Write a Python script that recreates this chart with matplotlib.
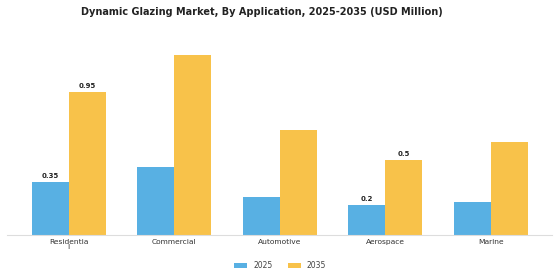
import matplotlib.pyplot as plt
import numpy as np

categories = ["Residentia\nl", "Commercial", "Automotive", "Aerospace", "Marine"]
values_2025 = [0.35, 0.45, 0.25, 0.20, 0.22]
values_2035 = [0.95, 1.20, 0.70, 0.50, 0.62]
# only these groups carry value labels in the original
labelled = [0, 3]

blue = "#58b0e3"
yellow = "#f8c24a"

fig = plt.figure(figsize=(5.6, 2.8), dpi=100)
ax = fig.add_axes([0.0125, 0.162, 0.973, 0.707])

x = np.arange(len(categories))
w = 0.35
ax.bar(x - w / 2, values_2025, w, color=blue, label="2025")
ax.bar(x + w / 2, values_2035, w, color=yellow, label="2035")

for i in labelled:
    ax.text(x[i] - w / 2, values_2025[i] + 0.02, f"{values_2025[i]:g}",
            ha="center", va="bottom", fontsize=5, fontweight="bold", color="#222222")
    ax.text(x[i] + w / 2, values_2035[i] + 0.02, f"{values_2035[i]:g}",
            ha="center", va="bottom", fontsize=5, fontweight="bold", color="#222222")

ax.set_xlim(-0.584, 4.578)
ax.set_ylim(0, 1.32)
ax.set_xticks(x)
ax.set_xticklabels(categories, fontsize=5.4, color="#333333", linespacing=0.9)
ax.tick_params(axis="x", length=0, pad=3)
ax.set_yticks([])
for side in ["top", "right", "left"]:
    ax.spines[side].set_visible(False)
ax.spines["bottom"].set_color("#dddddd")
ax.spines["bottom"].set_linewidth(0.8)

fig.suptitle("Dynamic Glazing Market, By Application, 2025-2035 (USD Million)",
             fontsize=7, fontweight="bold", x=0.467, y=0.975, color="#222222")
fig.legend(loc="lower center", ncol=2, frameon=False, fontsize=5.5,
           bbox_to_anchor=(0.5, 0.01), handlelength=1.7, handleheight=0.6,
           handletextpad=0.8, columnspacing=2.0, labelcolor="#444444")

plt.savefig("out.png", dpi=100)
